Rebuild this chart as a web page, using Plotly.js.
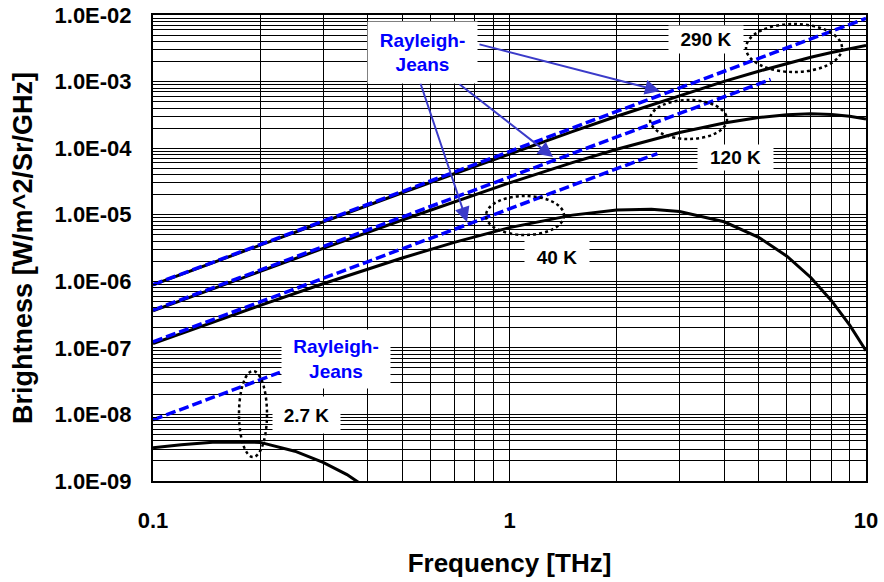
<!DOCTYPE html>
<html>
<head>
<meta charset="utf-8">
<script src="https://cdn.plot.ly/plotly-3.0.1.min.js"></script>
<style>html,body{margin:0;padding:0;background:#fff;}#chart{width:884px;height:582px;}</style>
</head>
<body>
<div id="chart"></div>
<script>
// ---- Data (frequency in THz, brightness in W/m^2/Sr/GHz) ----
const freq290 = [0.1, 0.15, 0.2, 0.3, 0.5, 0.7, 1, 1.5, 2, 3, 4, 5, 6, 7, 8, 9, 10];
const planck290 = [8.84e-7, 1.98e-6, 3.51e-6, 7.82e-6, 2.14e-5, 4.12e-5, 8.19e-5, 1.77e-4, 3.01e-4, 6.19e-4, 1.005e-3, 1.43e-3, 1.88e-3, 2.32e-3, 2.74e-3, 3.13e-3, 3.48e-3];

const freq120 = [0.1, 0.15, 0.2, 0.3, 0.5, 0.7, 1, 1.5, 2, 3, 4, 5, 6, 7, 8, 9, 10];
const planck120 = [3.61e-7, 8.05e-7, 1.42e-6, 3.12e-6, 8.33e-6, 1.57e-5, 3.0e-5, 6.05e-5, 9.63e-5, 1.72e-4, 2.39e-4, 2.89e-4, 3.18e-4, 3.28e-4, 3.21e-4, 3.02e-4, 2.75e-4];

const freq40 = [0.1, 0.15, 0.2, 0.3, 0.5, 0.7, 1, 1.5, 2, 2.5, 3, 4, 5, 6, 7, 8, 9, 10];
const planck40 = [1.16e-7, 2.52e-7, 4.35e-7, 9.19e-7, 2.24e-6, 3.84e-6, 6.4e-6, 9.86e-6, 1.18e-5, 1.21e-5, 1.12e-5, 7.83e-6, 4.58e-6, 2.38e-6, 1.14e-6, 5.11e-7, 2.19e-7, 9.06e-8];

const freq27 = [0.1, 0.12, 0.15, 0.2, 0.25, 0.3, 0.35, 0.4];
const planck27 = [3.15e-9, 3.5e-9, 3.85e-9, 3.8e-9, 2.8e-9, 1.9e-9, 1.25e-9, 7.7e-10];

// Rayleigh-Jeans approximations (dashed)
const rjFreq290 = [0.1, 10];
const rj290 = [8.91e-7, 8.91e-3];
const rjFreq120 = [0.1, 5.4];
const rj120 = [3.69e-7, 1.075e-3];
const rjFreq40 = [0.1, 2.6];
const rj40 = [1.23e-7, 8.3e-5];
const rjFreq27 = [0.1, 0.227];
const rj27 = [8.3e-9, 4.28e-8];

// Tick labels
const yTickVals = [1e-9, 1e-8, 1e-7, 1e-6, 1e-5, 1e-4, 1e-3, 1e-2];
const yTickText = ['1.0E-09', '1.0E-08', '1.0E-07', '1.0E-06', '1.0E-05', '1.0E-04', '1.0E-03', '1.0E-02'];
const xTickVals = [0.1, 1, 10];
const xTickText = ['0.1', '1', '10'];

// Curve labels
const tempLabels = ['290 K', '120 K', '40 K', '2.7 K'];
const rjLabel = 'Rayleigh-<br>Jeans';

// ---- layout helpers ----
const L = 153, R = 866, T = 15, B = 481;
const px = X => (X - L) / (R - L);
const py = Y => (B - Y) / (B - T);

function minorVals(decades) {
  const out = [];
  decades.forEach(d => { for (let m = 2; m <= 9; m++) out.push(d * m); });
  return out;
}

const FONT = 'Liberation Sans, Arial, Helvetica, sans-serif';
const blue = 'rgb(0,0,255)';
const solid = {color: '#000', width: 3};
const dashed = {color: blue, width: 3.5, dash: '10px,4px'};

const traces = [
  {x: freq290, y: planck290, mode: 'lines', line: solid, name: '290 K'},
  {x: freq120, y: planck120, mode: 'lines', line: solid, name: '120 K'},
  {x: freq40, y: planck40, mode: 'lines', line: solid, name: '40 K'},
  {x: freq27, y: planck27, mode: 'lines', line: solid, name: '2.7 K'},
  {x: rjFreq290, y: rj290, mode: 'lines', line: dashed, name: 'RJ 290 K'},
  {x: rjFreq120, y: rj120, mode: 'lines', line: dashed, name: 'RJ 120 K'},
  {x: rjFreq40, y: rj40, mode: 'lines', line: dashed, name: 'RJ 40 K'},
  {x: rjFreq27, y: rj27, mode: 'lines', line: dashed, name: 'RJ 2.7 K'}
];

const arrowColor = '#3b3bc9';
function arrow(tx, ty, hx, hy) {
  return {xref: 'paper', yref: 'paper', x: px(hx), y: py(hy), ax: tx - hx, ay: ty - hy,
    text: '', showarrow: true, arrowhead: 2, arrowsize: 1.5, arrowwidth: 2,
    arrowcolor: arrowColor, standoff: 0, startstandoff: 0};
}
function box(text, cx, cy, w, h, color) {
  return {xref: 'paper', yref: 'paper', x: px(cx), y: py(cy), xanchor: 'center', yanchor: 'middle',
    text: text, showarrow: false, bgcolor: '#fff', borderpad: 0, width: w, height: h,
    font: {family: FONT, size: 19, weight: 'bold', color: color}};
}

const annotations = [
  arrow(478, 44, 660, 91),
  arrow(458, 83, 553, 157),
  arrow(420, 82, 467, 222),
  box(rjLabel, 422.5, 52.5, 109, 61, blue),
  box(rjLabel, 336, 359, 108, 58, blue),
  box(tempLabels[0], 706, 39, 74, 27, '#000'),
  box(tempLabels[1], 735.5, 157.5, 75, 25, '#000'),
  box(tempLabels[2], 557, 257.5, 64, 41, '#000'),
  box(tempLabels[3], 306.5, 415, 67, 36, '#000')
];

function ellipse(x0, x1, y0, y1) {
  return {type: 'circle', xref: 'paper', yref: 'paper', x0: px(x0), x1: px(x1), y0: py(y1), y1: py(y0),
    line: {color: '#000', width: 2.5, dash: 'dot'}, layer: 'above'};
}
const shapes = [
  ellipse(746, 842, 24, 72),
  ellipse(650, 727, 100, 139),
  ellipse(486, 564, 196, 235),
  ellipse(239, 267, 371, 457)
];

const gridColor = '#000';
const layout = {
  width: 884, height: 582, autosize: false,
  margin: {l: L, r: 884 - R, t: T, b: 582 - B, pad: 0},
  paper_bgcolor: '#fff', plot_bgcolor: '#fff',
  showlegend: false,
  font: {family: FONT, color: '#000'},
  xaxis: {
    type: 'log', range: [-1, 1],
    tickvals: xTickVals, ticktext: xTickText,
    tickfont: {family: FONT, size: 22, weight: 'bold', color: '#000'},
    ticks: 'inside', ticklen: 5, tickcolor: '#000', ticklabelstandoff: 19,
    showgrid: true, gridcolor: gridColor, gridwidth: 1,
    minor: {tickvals: minorVals([0.1, 1]), showgrid: true, gridcolor: gridColor, gridwidth: 1, ticks: 'inside', ticklen: 4, tickcolor: '#000'},
    showline: true, linecolor: '#000', linewidth: 2, mirror: true, zeroline: false,
    title: {text: 'Frequency [THz]', font: {family: FONT, size: 26, weight: 'bold', color: '#000'}, standoff: 21}
  },
  yaxis: {
    type: 'log', range: [-9, -2],
    tickvals: yTickVals, ticktext: yTickText,
    tickfont: {family: FONT, size: 22, weight: 'bold', color: '#000'},
    ticks: 'inside', ticklen: 5, tickcolor: '#000', ticklabelstandoff: 15,
    showgrid: true, gridcolor: gridColor, gridwidth: 1,
    minor: {tickvals: minorVals([1e-9, 1e-8, 1e-7, 1e-6, 1e-5, 1e-4, 1e-3]), showgrid: true, gridcolor: gridColor, gridwidth: 1, ticks: 'inside', ticklen: 4, tickcolor: '#000'},
    showline: true, linecolor: '#000', linewidth: 2, mirror: true, zeroline: false,
    title: {text: 'Brightness [W/m^2/Sr/GHz]', font: {family: FONT, size: 27, weight: 'bold', color: '#000'}, standoff: 14}
  },
  annotations: annotations,
  shapes: shapes
};

Plotly.newPlot('chart', traces, layout, {staticPlot: true, displayModeBar: false});
</script>
</body>
</html>
